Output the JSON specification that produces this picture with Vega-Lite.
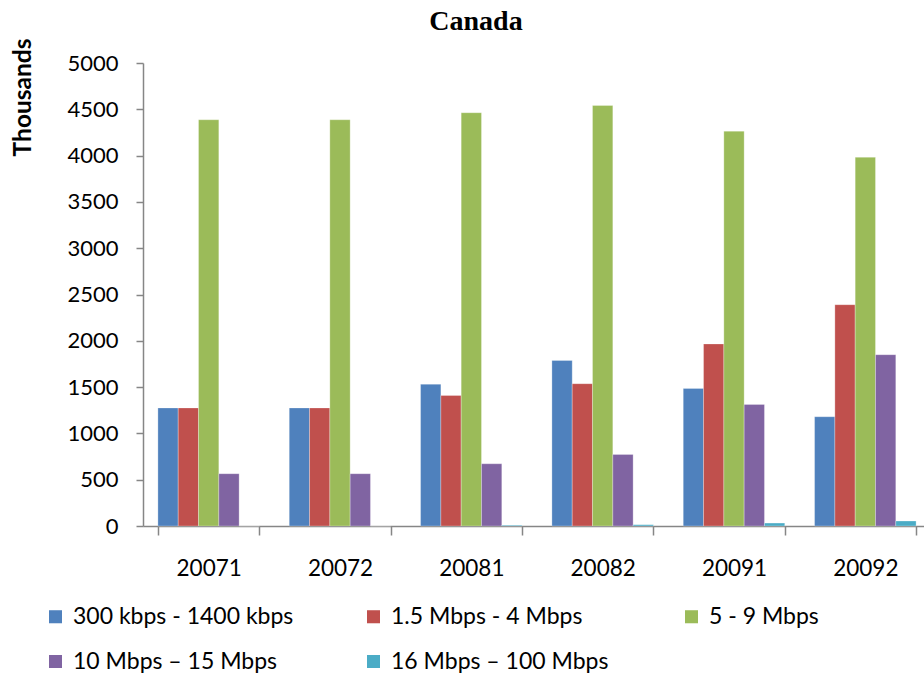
{
  "$schema": "https://vega.github.io/schema/vega-lite/v6.json",
  "autosize": "none",
  "width": 788,
  "height": 463,
  "padding": {"left": 143, "top": 63, "right": -7, "bottom": 149},
  "background": "white",
  "title": {
    "text": "Canada",
    "font": "Liberation Serif",
    "fontSize": 28,
    "fontWeight": "bold",
    "color": "#000000",
    "anchor": "middle",
    "frame": "group",
    "baseline": "alphabetic",
    "dx": -61,
    "dy": 29,
    "offset": 9
  },
  "data": {
    "values": [
      {"period": "20071", "speed": "300 kbps - 1400 kbps", "value": 1275},
      {"period": "20071", "speed": "1.5 Mbps - 4 Mbps", "value": 1275},
      {"period": "20071", "speed": "5 - 9 Mbps", "value": 4387},
      {"period": "20071", "speed": "10 Mbps – 15 Mbps", "value": 565},
      {"period": "20071", "speed": "16 Mbps – 100 Mbps", "value": 0},
      {"period": "20072", "speed": "300 kbps - 1400 kbps", "value": 1275},
      {"period": "20072", "speed": "1.5 Mbps - 4 Mbps", "value": 1275},
      {"period": "20072", "speed": "5 - 9 Mbps", "value": 4387},
      {"period": "20072", "speed": "10 Mbps – 15 Mbps", "value": 565},
      {"period": "20072", "speed": "16 Mbps – 100 Mbps", "value": 0},
      {"period": "20081", "speed": "300 kbps - 1400 kbps", "value": 1531},
      {"period": "20081", "speed": "1.5 Mbps - 4 Mbps", "value": 1409},
      {"period": "20081", "speed": "5 - 9 Mbps", "value": 4463},
      {"period": "20081", "speed": "10 Mbps – 15 Mbps", "value": 672},
      {"period": "20081", "speed": "16 Mbps – 100 Mbps", "value": 8},
      {"period": "20082", "speed": "300 kbps - 1400 kbps", "value": 1788},
      {"period": "20082", "speed": "1.5 Mbps - 4 Mbps", "value": 1537},
      {"period": "20082", "speed": "5 - 9 Mbps", "value": 4541},
      {"period": "20082", "speed": "10 Mbps – 15 Mbps", "value": 773},
      {"period": "20082", "speed": "16 Mbps – 100 Mbps", "value": 14},
      {"period": "20091", "speed": "300 kbps - 1400 kbps", "value": 1486},
      {"period": "20091", "speed": "1.5 Mbps - 4 Mbps", "value": 1966},
      {"period": "20091", "speed": "5 - 9 Mbps", "value": 4264},
      {"period": "20091", "speed": "10 Mbps – 15 Mbps", "value": 1313},
      {"period": "20091", "speed": "16 Mbps – 100 Mbps", "value": 32},
      {"period": "20092", "speed": "300 kbps - 1400 kbps", "value": 1180},
      {"period": "20092", "speed": "1.5 Mbps - 4 Mbps", "value": 2390},
      {"period": "20092", "speed": "5 - 9 Mbps", "value": 3982},
      {"period": "20092", "speed": "10 Mbps – 15 Mbps", "value": 1850},
      {"period": "20092", "speed": "16 Mbps – 100 Mbps", "value": 54}
    ]
  },
  "mark": {"type": "bar", "stroke": "#ffffff", "strokeOpacity": 0.35, "strokeWidth": 0.8},
  "encoding": {
    "x": {
      "field": "period",
      "type": "nominal",
      "sort": null,
      "scale": {"paddingInner": 0.227, "paddingOuter": 0.1135},
      "axis": {
        "title": null,
        "labelAngle": 0,
        "labelFont": "Lato",
        "labelFontSize": 22.5,
        "labelColor": "#000000",
        "labelPadding": 22,
        "tickBand": "extent",
        "tickSize": 9,
        "tickColor": "#868686",
        "tickWidth": 1.5,
        "domainColor": "#868686",
        "domainWidth": 1.5
      }
    },
    "xOffset": {
      "field": "speed",
      "type": "nominal",
      "scale": {
        "domain": ["300 kbps - 1400 kbps", "1.5 Mbps - 4 Mbps", "5 - 9 Mbps", "10 Mbps – 15 Mbps", "16 Mbps – 100 Mbps"],
        "paddingInner": 0,
        "paddingOuter": 0
      }
    },
    "y": {
      "field": "value",
      "type": "quantitative",
      "scale": {"domain": [0, 5000], "nice": false},
      "axis": {
        "title": "Thousands",
        "titleFont": "Lato",
        "titleFontSize": 24.5,
        "titleFontWeight": "bold",
        "titleColor": "#000000",
        "titleAngle": -90,
        "titleAlign": "right",
        "titleBaseline": "middle",
        "titleX": -120,
        "titleY": -25,
        "values": [0, 500, 1000, 1500, 2000, 2500, 3000, 3500, 4000, 4500, 5000],
        "format": "d",
        "grid": false,
        "labelFont": "Lato",
        "labelFontSize": 22,
        "labelColor": "#000000",
        "labelPadding": 18,
        "tickSize": 7,
        "tickColor": "#868686",
        "tickWidth": 1.5,
        "domainColor": "#868686",
        "domainWidth": 1.5
      }
    },
    "color": {
      "field": "speed",
      "type": "nominal",
      "scale": {
        "domain": ["300 kbps - 1400 kbps", "1.5 Mbps - 4 Mbps", "5 - 9 Mbps", "10 Mbps – 15 Mbps", "16 Mbps – 100 Mbps"],
        "range": ["#4F81BD", "#C0504D", "#9BBB59", "#8064A2", "#4BACC6"]
      },
      "legend": {
        "title": null,
        "orient": "none",
        "legendX": -99,
        "legendY": 542,
        "direction": "horizontal",
        "columns": 3,
        "gridAlign": "all",
        "columnPadding": 68,
        "rowPadding": 21,
        "symbolType": "square",
        "symbolSize": 170,
        "symbolStrokeWidth": 0,
        "labelFont": "Lato",
        "labelFontSize": 23,
        "labelColor": "#000000",
        "labelOffset": 6,
        "labelLimit": 400
      }
    }
  },
  "config": {"view": {"stroke": null}}
}
